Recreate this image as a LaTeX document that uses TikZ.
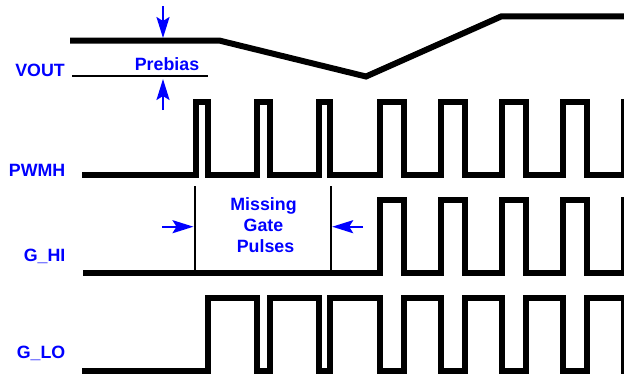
\documentclass[tikz,border=0pt]{standalone}
\usepackage{fontspec}
\setmainfont{Liberation Sans}
\usetikzlibrary{arrows.meta}
\begin{document}
\begin{tikzpicture}[x=1pt,y=-1pt,
  wave/.style={line width=6pt, line join=miter, line cap=butt},
  thinline/.style={line width=1.8pt},
  lbl/.style={text=blue, font=\fontsize{17.8}{21}\selectfont\bfseries, inner sep=0pt},
  marker/.style={draw=blue, line width=2.2pt, -{Stealth[length=21pt,width=13pt,inset=4pt]}}]
\useasboundingbox (0,0) rectangle (624,376);

% labels
\node[lbl, anchor=base east] (vout) at (65,76.7) {VOUT};
\node[lbl, anchor=base east] (pwmh) at (65.5,176.7) {PWMH};
\node[lbl, anchor=base east] (ghi) at (65.5,261.7) {G\_HI};
\node[lbl, anchor=base east] (glo) at (65.5,358.3) {G\_LO};
\node[lbl, anchor=base] (prebias) at (167,70.7) {Prebias};
\node[lbl, anchor=base] (miss1) at (263.5,210) {Missing};
\node[lbl, anchor=base] (miss2) at (263.5,231.3) {Gate};
\node[lbl, anchor=base] (miss3) at (265.5,252.7) {Pulses};

% VOUT
\draw[wave] (70,40.7) -- (220,40.7) -- (366,76.5) -- (501.5,16.3) -- (630,16.3);
\coordinate (pbl) at (72,76.3);
\coordinate (pbr) at (208,76.3);
\draw[thinline] (pbl) -- (pbr);
\coordinate (dnstart) at (163,6);
\coordinate (dntip) at (163,38);
\coordinate (upstart) at (163,110);
\coordinate (uptip) at (163,79);
\draw[marker] (dnstart) -- (dntip);
\draw[marker] (upstart) -- (uptip);

% PWMH
\draw[wave] (82,175)
  foreach \r/\f in {195.7/207.7, 257.3/270, 319/330.3, 380.2/403.5, 440.8/465.2, 501.8/525.8, 562.5/586.8}
  { -- (\r,175) -- (\r,102.3) -- (\f,102.3) -- (\f,175) }
  -- (623.5,175) -- (623.5,102.3) -- (630,102.3);

% G_HI
\draw[wave] (83,273)
  foreach \r/\f in {380.2/403.5, 440.8/465.2, 501.8/525.8, 562.5/586.8}
  { -- (\r,273) -- (\r,200) -- (\f,200) -- (\f,273) }
  -- (623.5,273) -- (623.5,200) -- (630,200);

% G_LO
\draw[wave] (82,371.2) -- (207.7,371.2) -- (207.7,298.3)
  foreach \a/\b in {257.3/270, 319/330.3, 380.2/403.5, 440.8/465.2, 501.8/525.8, 562.5/586.8}
  { -- (\a,298.3) -- (\a,371.2) -- (\b,371.2) -- (\b,298.3) }
  -- (623.5,298.3) -- (623.5,371.2) -- (630,371.2);

% missing pulses markers
\coordinate (m1top) at (194.7,186);
\coordinate (m1bot) at (194.7,273);
\coordinate (m2top) at (331,186);
\coordinate (m2bot) at (331,273);
\draw[thinline] (m1top) -- (m1bot);
\draw[thinline] (m2top) -- (m2bot);
\coordinate (la) at (162,226.7);
\coordinate (latip) at (193.5,226.7);
\coordinate (ra) at (363,226.7);
\coordinate (ratip) at (332.2,226.7);
\draw[marker] (la) -- (latip);
\draw[marker] (ra) -- (ratip);
\end{tikzpicture}
\end{document}
